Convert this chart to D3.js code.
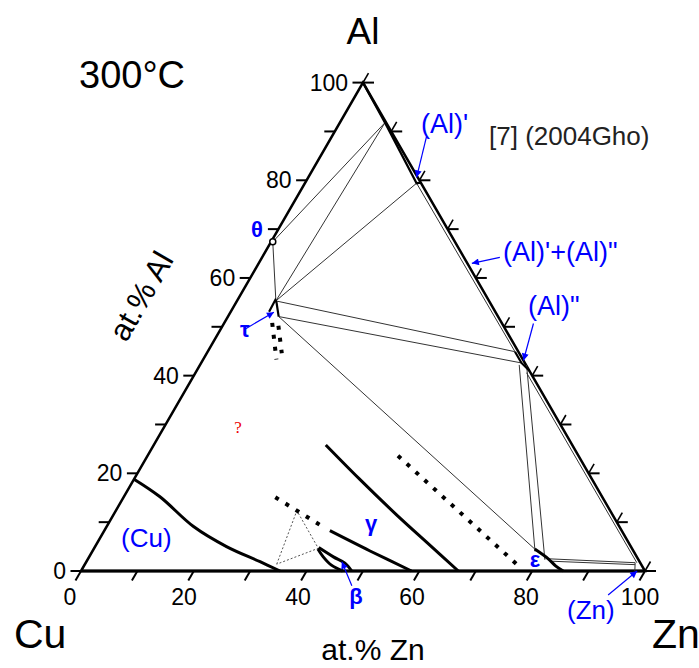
<!DOCTYPE html>
<html>
<head>
<meta charset="utf-8">
<script src="https://cdn.jsdelivr.net/npm/d3@7"></script>
<style>
  body { margin: 0; background: #fff; }
  svg { display: block; font-family: "Liberation Sans", Arial, sans-serif; }
</style>
</head>
<body>
<svg width="699" height="668"></svg>
<script>
// every composition is [at.% Zn, at.% Al]; Cu is what is left
const tickValues = d3.range(0, 101, 10);
const labelValues = [0, 20, 40, 60, 80, 100];

// thick phase boundaries
const cuSolvus = [[0, 18.8], [6.4, 15.2], [15.4, 9.1], [23.3, 5.0], [30.8, 1.9], [35.3, 0]];
const alPrimeSolvus = [[0, 100], [8.0, 91.8], [19.8, 79.4], [20.5, 79.5]];
const alSecondRegion = [[54.5, 44.9], [56.8, 42.6], [59.0, 41.0]];
const tauRegion = [[6.8, 53.1], [6.7, 55.5], [7.1, 55.1], [9.0, 52.1]];
const betaUpper = [[39.75, 4.8], [43.3, 2.9], [46.0, 1.6], [48.0, 0]];
const betaLower = [[39.75, 4.5], [41.5, 2.9], [43.8, 1.2], [46.4, 0]];
const gammaLower = [[40.0, 8.25], [49.2, 4.1], [58.6, 0]];
const gammaUpper = [[30.5, 25.8], [40.0, 18.8], [50.2, 11.5], [59.2, 5.3], [66.9, 0]];
const epsilonBoundary = [[78.2, 4.5], [81.6, 2.5], [83.7, 1.0], [85.5, 0]];

// thin tie lines and three-phase triangles
const thetaPoint = [0.3, 67.4];
const tieLines = [
  [[0.3, 67.4], [6.9, 55.3]],
  [[0.3, 67.4], [8.0, 91.8]],
  [[6.9, 55.3], [8.0, 91.8]],
  [[6.9, 55.3], [19.8, 79.4]],
  [[19.8, 79.4], [54.5, 44.9]],
  [[6.9, 55.3], [54.5, 44.9]],
  [[9.0, 52.1], [56.8, 42.6]],
  [[9.0, 52.1], [78.2, 4.5]],
  [[56.6, 42.2], [78.5, 4.0]],
  [[57.9, 42.2], [81.1, 2.3]],
  [[58.7, 40.6], [97.7, 1.7]],
  [[81.6, 2.5], [97.4, 1.7]],
  [[82.5, 2.0], [97.6, 1.3]],
  [[97.4, 1.7], [98.2, 0]]
];
const dottedTriangle = [[34.0, 1.4], [32.1, 12.35], [39.75, 4.65], [34.0, 1.4]];

// heavy dotted (uncertain) boundaries
const dottedBoundaries = [
  [[26.9, 15.1], [38.1, 9.2]],
  [[44.4, 23.6], [77.7, 0.6]],
  [[8.5, 50.8], [13.0, 43.3]],
  [[9.9, 50.2], [13.3, 44.6]]
];

// blue labels: tip of the arrow as composition, tail as pixel offset
const arrowTips = [[19.2, 80.6], [37.8, 63.0], [56.9, 43.1], [7.7, 53.0], [45.3, 1.9], [98.6, 0]];
const arrowTails = [[10, -41], [28, -6], [10, -37], [-29, 17], [10, 24], [-29, 24]];

const svg = d3.select("svg");
const x = d3.scaleLinear().domain([0, 100]).range([81, 645]);
const y = d3.scaleLinear().domain([0, 100]).range([571, 82.6]);
const px = d => x(d[0] + d[1] / 2);
const py = d => y(d[1]);

const straight = d3.line().x(px).y(py);
const smooth = d3.line().x(px).y(py).curve(d3.curveCatmullRom);

// arrow head
svg.append("defs").append("marker")
  .attr("id", "head").attr("viewBox", "0 0 10 10")
  .attr("refX", 10).attr("refY", 5)
  .attr("markerWidth", 9).attr("markerHeight", 7)
  .attr("markerUnits", "userSpaceOnUse")
  .attr("orient", "auto")
  .append("path").attr("d", "M0,0L10,5L0,10Z").attr("fill", "#0000ff");

// triangle frame
const corners = [[0, 0], [100, 0], [0, 100], [0, 0]];
svg.append("path").attr("d", straight(corners))
  .attr("fill", "none").attr("stroke", "#000").attr("stroke-width", 2.5)
  .attr("stroke-linejoin", "miter");
svg.append("path").attr("d", straight([[0, 0], [100, 0]]))
  .attr("stroke", "#000").attr("stroke-width", 3.2);

// ticks
const ticks = svg.append("g").attr("stroke", "#000").attr("stroke-width", 2);
tickValues.forEach(t => {
  const l = [0, t], b = [t, 0], r = [100 - t, t];
  ticks.append("line").attr("x1", px(l)).attr("y1", py(l)).attr("x2", px(l) - 10.5).attr("y2", py(l));
  ticks.append("line").attr("x1", px(b)).attr("y1", py(b)).attr("x2", px(b) - 5.5).attr("y2", py(b) + 9.5);
  ticks.append("line").attr("x1", px(r)).attr("y1", py(r)).attr("x2", px(r) + 11).attr("y2", py(r));
  ticks.append("line").attr("x1", px(r)).attr("y1", py(r)).attr("x2", px(r) + 5.5).attr("y2", py(r) - 9.5)
    .attr("stroke-width", 1.6);
});

svg.append("g").selectAll("text").data(labelValues).join("text")
  .attr("x", t => px([0, t]) - 15).attr("y", t => py([0, t]) + 8)
  .attr("text-anchor", "end").attr("font-size", 23).text(t => t);
svg.append("g").selectAll("text").data(labelValues).join("text")
  .attr("x", t => px([t, 0]) - 11 + t * 0.06).attr("y", 605)
  .attr("text-anchor", "middle").attr("font-size", 23).text(t => t);

// thin lines
svg.append("g").selectAll("path").data(tieLines).join("path")
  .attr("d", straight).attr("fill", "none")
  .attr("stroke", "#333").attr("stroke-width", 1);
svg.append("path").attr("d", straight(dottedTriangle))
  .attr("fill", "none").attr("stroke", "#555").attr("stroke-width", 1)
  .attr("stroke-dasharray", "2,2");

// thick boundaries
[cuSolvus, betaUpper, betaLower, gammaLower, gammaUpper, epsilonBoundary].forEach(b => {
  svg.append("path").attr("d", smooth(b)).attr("fill", "none")
    .attr("stroke", "#000").attr("stroke-width", 3);
});
[alPrimeSolvus, alSecondRegion, tauRegion].forEach(b => {
  svg.append("path").attr("d", straight(b)).attr("fill", "none")
    .attr("stroke", "#000").attr("stroke-width", 2.2);
});
svg.append("circle").attr("cx", px(thetaPoint)).attr("cy", py(thetaPoint)).attr("r", 3)
  .attr("fill", "#fff").attr("stroke", "#000").attr("stroke-width", 1.5);

svg.append("g").selectAll("path").data(dottedBoundaries).join("path")
  .attr("d", straight).attr("fill", "none")
  .attr("stroke", "#000").attr("stroke-width", 4)
  .attr("stroke-dasharray", "4,8");

// arrows
svg.append("g").selectAll("line").data(arrowTips).join("line")
  .attr("x1", (d, i) => px(d) + arrowTails[i][0])
  .attr("y1", (d, i) => py(d) + arrowTails[i][1])
  .attr("x2", px).attr("y2", py)
  .attr("stroke", "#0000ff").attr("stroke-width", 1.2)
  .attr("marker-end", "url(#head)");

// text
const texts = [
  ["Al", 363, 44, 37, "#000", "middle", "normal"],
  ["300°C", 79, 88, 38, "#000", "start", "normal"],
  ["[7] (2004Gho)", 489, 145, 26, "#222", "start", "normal"],
  ["(Al)'", 421, 133, 27, "#0000ff", "start", "normal"],
  ["(Al)'+(Al)\"", 503, 261, 27, "#0000ff", "start", "normal"],
  ["(Al)\"", 528, 315, 27, "#0000ff", "start", "normal"],
  ["θ", 257, 237, 22, "#0000ff", "middle", "bold"],
  ["τ", 245, 337, 22, "#0000ff", "middle", "bold"],
  ["(Cu)", 121, 547, 26, "#0000ff", "start", "normal"],
  ["γ", 371, 531, 22, "#0000ff", "middle", "bold"],
  ["β", 356, 604, 22, "#0000ff", "middle", "bold"],
  ["ε", 535, 567, 22, "#0000ff", "middle", "bold"],
  ["(Zn)", 567, 619, 26, "#0000ff", "start", "normal"],
  ["Cu", 14, 648, 41, "#000", "start", "normal"],
  ["Zn", 652, 648, 41, "#000", "start", "normal"],
  ["at.% Zn", 373, 660, 30, "#000", "middle", "normal"]
];
svg.append("g").selectAll("text").data(texts).join("text")
  .attr("x", d => d[1]).attr("y", d => d[2])
  .attr("font-size", d => d[3]).attr("fill", d => d[4])
  .attr("text-anchor", d => d[5]).attr("font-weight", d => d[6])
  .text(d => d[0]);

svg.append("text").attr("transform", "translate(141,296) rotate(-60)")
  .attr("text-anchor", "middle").attr("dy", "0.35em")
  .attr("font-size", 31).text("at.% Al");

svg.append("text").attr("x", 238).attr("y", 433)
  .attr("text-anchor", "middle").attr("font-size", 17)
  .attr("font-family", "Liberation Serif, serif").attr("fill", "#e00").text("?");
</script>
</body>
</html>
